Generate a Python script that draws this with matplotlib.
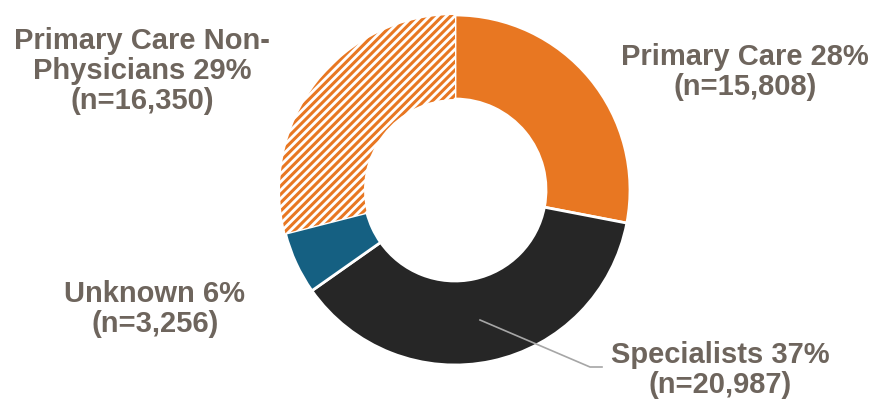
import matplotlib
matplotlib.use("Agg")
import matplotlib.pyplot as plt

labels = ["Primary Care", "Specialists", "Unknown", "Primary Care Non-\nPhysicians"]
counts = [15808, 20987, 3256, 16350]
pcts = [28, 37, 6, 29]

orange = "#E87722"
dark = "#262626"
blue = "#156082"
txt = "#6E655D"

plt.rcParams["font.family"] = ["Liberation Sans", "DejaVu Sans"]
plt.rcParams["hatch.linewidth"] = 2.2
plt.rcParams["hatch.color"] = orange

fig = plt.figure(figsize=(8.7, 4.0), dpi=100)
ax = fig.add_axes([0, 0, 1, 1])

cx, cy, r = 455, 210, 175
wedges, _ = ax.pie(counts, center=(cx, cy), radius=r, startangle=90, counterclock=False,
                   colors=[orange, dark, blue, "white"],
                   wedgeprops=dict(width=r * 0.48, edgecolor="white", linewidth=2))
wedges[3].set_hatch("////")
wedges[3].set_edgecolor(orange)
wedges[3].set_linewidth(0)

# pie() resets the limits, so set them afterwards
ax.set_xlim(0, 870)
ax.set_ylim(0, 400)
ax.set_aspect("equal")
ax.axis("off")

kw = dict(ha="center", va="center", fontsize=21, fontweight="bold", color=txt, linespacing=1.1)
ax.text(745, 328, "%s %d%%\n(n=%s)" % (labels[0], pcts[0], format(counts[0], ",")), **kw)
ax.text(720, 30, "%s %d%%\n(n=%s)" % (labels[1], pcts[1], format(counts[1], ",")), **kw)
ax.text(155, 91, "%s %d%%\n(n=%s)" % (labels[2], pcts[2], format(counts[2], ",")), **kw)
ax.text(142, 329, "%s %d%%\n(n=%s)" % (labels[3], pcts[3], format(counts[3], ",")), **kw)

# leader line for specialists
ax.plot([480, 590, 602], [80, 33, 33], color="#A6A6A6", lw=1.2)

fig.savefig("out.png", dpi=100)
